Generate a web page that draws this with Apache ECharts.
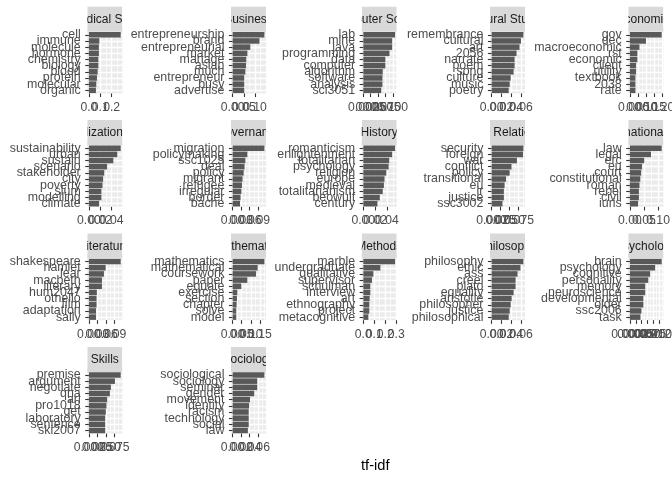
<!DOCTYPE html>
<html><head><meta charset="utf-8">
<script src="https://cdn.jsdelivr.net/npm/echarts@6/dist/echarts.min.js"></script>
<style>html,body{margin:0;padding:0;background:#fff}#c{width:672px;height:480px}</style>
</head><body><div id="c"></div>
<script>
// ---------------- data ----------------
const facetNames = ["Biomedical Science","Business","Computer Science","Cultural Studies","Economics",
  "Globalization","Governance","History","Int'l Relations","International Law",
  "Literature","Mathematics","Methods","Philosophy","Psychology","Skills","Sociology"];

const terms = [
  ["cell","immune","molecule","hormone","chemistry","biology","blood","protein","molecular","organic"],
  ["entrepreneurship","brand","entrepreneurial","market","manage","asian","much","entrepreneur","busy","advertise"],
  ["lab","mine","java","programming","data","computer","algorithm","software","analysis","sci3051"],
  ["remembrance","cultural","art","2056","narrate","poem","song","culture","music","poetry"],
  ["gov","dec","macroeconomic","rst","economic","client","utility","textbook","2038","rate"],
  ["sustainability","urban","sustain","scenario","stakeholder","city","poverty","slum","modelling","climate"],
  ["migration","policymaking","ssc1025","deal","policy","migrant","refugee","irregular","border","bache"],
  ["romanticism","enlightenment","totalitarian","psychology","religion","europe","medieval","totalitarianism","beowulf","century"],
  ["security","foreign","war","conflict","policy","transitional","eu","ir","justice","ssc3002"],
  ["law","legal","erc","eu","court","constitutional","roman","rebel","civil","iuris"],
  ["shakespeare","hamlet","lear","macbeth","literary","hum2047","othello","film","adaptation","sally"],
  ["mathematics","mathematical","coursework","paper","equate","exercise","section","chapter","solve","model"],
  ["marble","undergraduate","qualitative","supervisor","schulman","interview","art","ethnography","project","metacognitive"],
  ["philosophy","ethic","ass","creel","plato","equality","aristotle","philosopher","justice","philosophical"],
  ["brain","psychology","cognitive","personality","memory","neuroscience","developmental","older","ssc2006","task"],
  ["premise","argument","negotiate","qna","arl","pro1018","get","laboratory","sentence","ski2007"],
  ["sociological","sociology","seminar","gender","movement","identity","racism","technology","social","law"]
];

const tfidf = [
  [0.280,0.092,0.088,0.088,0.083,0.083,0.077,0.071,0.065,0.062],
  [0.142,0.120,0.079,0.066,0.061,0.060,0.057,0.052,0.052,0.052],
  [0.108,0.098,0.098,0.089,0.075,0.075,0.066,0.065,0.065,0.061],
  [0.065,0.060,0.057,0.051,0.047,0.047,0.045,0.039,0.037,0.035],
  [0.196,0.099,0.059,0.046,0.046,0.038,0.038,0.034,0.034,0.034],
  [0.056,0.050,0.043,0.032,0.027,0.025,0.024,0.022,0.022,0.018],
  [0.112,0.052,0.045,0.042,0.039,0.035,0.033,0.031,0.028,0.026],
  [0.054,0.049,0.044,0.043,0.039,0.036,0.035,0.033,0.028,0.024],
  [0.088,0.087,0.070,0.055,0.050,0.040,0.036,0.034,0.034,0.030],
  [0.113,0.075,0.051,0.043,0.040,0.037,0.034,0.032,0.032,0.029],
  [0.112,0.059,0.053,0.046,0.046,0.028,0.027,0.027,0.025,0.025],
  [0.175,0.138,0.129,0.081,0.048,0.026,0.024,0.022,0.020,0.020],
  [0.290,0.156,0.092,0.079,0.064,0.064,0.058,0.055,0.055,0.046],
  [0.065,0.059,0.053,0.049,0.049,0.045,0.041,0.039,0.037,0.035],
  [0.0135,0.0107,0.0086,0.0078,0.0065,0.0065,0.0057,0.0057,0.0049,0.0045],
  [0.094,0.077,0.065,0.062,0.054,0.052,0.050,0.048,0.048,0.048],
  [0.075,0.058,0.058,0.051,0.041,0.039,0.038,0.038,0.038,0.036]
];

const tickLabels = [
  ["0.0","0.1","0.2"],
  ["0.00","0.05","0.10"],
  ["0.000","0.025","0.050","0.075","0.100"],
  ["0.00","0.02","0.04","0.06"],
  ["0.00","0.05","0.10","0.15","0.20"],
  ["0.00","0.02","0.04"],
  ["0.00","0.03","0.06","0.09"],
  ["0.00","0.02","0.04"],
  ["0.000","0.025","0.050","0.075"],
  ["0.00","0.05","0.10"],
  ["0.00","0.03","0.06","0.09"],
  ["0.00","0.05","0.10","0.15"],
  ["0.0","0.1","0.2","0.3"],
  ["0.00","0.02","0.04","0.06"],
  ["0.0000","0.0025","0.0050","0.0075","0.0100","0.0125"],
  ["0.000","0.025","0.050","0.075"],
  ["0.00","0.02","0.04","0.06"]
];

const xTitle = "tf-idf";

// ---------------- layout / style ----------------
const colLeft = [87.3, 231.0, 361.7, 490.0, 628.3];
const panelW = 35, panelH = 61.7, rowTop0 = 31.7, rowStep = 113.4, stripH = 25;
const FONT = "'Liberation Sans', Arial, sans-serif";
const stripAnchor = ["center","center","center","center","center","right","center","center","center","center",
  "center","center","center","center","center","center","center"];

const grids = [], xAxes = [], yAxes = [], series = [], graphics = [];
const tickStyle = {color:'#333333', width:1.1};
const yLabelStyle = {fontSize:12.4, fontFamily:FONT, color:'#4D4D4D'};
const xLabelStyle = {fontSize:12.2, fontFamily:FONT, color:'#4D4D4D'};

facetNames.forEach((name, i) => {
  const r = Math.floor(i / 5), c = i % 5;
  const left = colLeft[c], top = rowTop0 + r * rowStep;
  grids.push({left:left, top:top, width:panelW, height:panelH, show:true,
    backgroundColor:'#EBEBEB', borderWidth:0, containLabel:false, outerBoundsMode:'none'});
  const vmax = Math.max.apply(null, tfidf[i]);
  const lo = -0.05 * vmax, hi = 1.05 * vmax;
  const majors = tickLabels[i].map(Number);
  const step = majors[1] - majors[0];
  const minors = [];
  for (let k = -1; k < majors.length; k++) {
    const m = majors[0] + (k + 0.5) * step;
    if (m > lo && m < hi) minors.push(m);
  }
  // main x axis: ticks + major grid lines (this one carries the bars)
  const mainX = xAxes.length;
  xAxes.push({type:'value', gridIndex:i, position:'bottom', min:lo, max:hi,
    axisLine:{show:false, onZero:false},
    axisTick:{show:true, customValues:majors, length:3.67, lineStyle:tickStyle},
    axisLabel:{show:false},
    splitLine:{show:true, lineStyle:{color:'#FFFFFF', width:1.4}}});
  // minor grid lines
  xAxes.push({type:'value', gridIndex:i, position:'top', min:lo, max:hi,
    axisLine:{show:false, onZero:false},
    axisTick:{show:false, customValues:minors},
    axisLabel:{show:false},
    splitLine:{show:true, lineStyle:{color:'#FFFFFF', width:0.7}}});
  // one label axis per break, so overlapping labels are all drawn (as in the reference)
  tickLabels[i].forEach((lab, k) => {
    xAxes.push({type:'value', gridIndex:i, position:'bottom', min:lo, max:hi,
      axisLine:{show:false, onZero:false},
      axisTick:{show:false, customValues:[majors[k]]},
      axisLabel:Object.assign({customValues:[majors[k]], margin:8.2, hideOverlap:false,
        showMinLabel:true, showMaxLabel:true, formatter:() => lab}, xLabelStyle),
      splitLine:{show:false}});
  });
  const mainY = yAxes.length;
  yAxes.push({type:'category', gridIndex:i, inverse:true, data:terms[i], position:'left',
    axisLine:{show:false},
    axisTick:{show:true, alignWithLabel:true, interval:0, length:3.67, lineStyle:tickStyle},
    axisLabel:Object.assign({interval:0, margin:6.6, hideOverlap:false,
      showMinLabel:true, showMaxLabel:true}, yLabelStyle),
    splitLine:{show:false}});
  yAxes.push({type:'value', gridIndex:i, position:'right', min:0, max:terms[i].length, inverse:true,
    axisLine:{show:false, onZero:false},
    axisTick:{show:false, customValues:terms[i].map((_, k) => k + 0.5)},
    axisLabel:{show:false},
    splitLine:{show:true, lineStyle:{color:'#FFFFFF', width:1.4}}});
  series.push({type:'bar', xAxisIndex:mainX, yAxisIndex:mainY, data:tfidf[i],
    barCategoryGap:'10%', itemStyle:{color:'#595959'}, silent:true});

  // strip
  const sTop = top - stripH;
  graphics.push({type:'rect', z:80, silent:true,
    shape:{x:left, y:sTop, width:panelW, height:stripH}, style:{fill:'#D9D9D9'}});
  const anchor = stripAnchor[i];
  const tx = anchor === 'right' ? left + panelW + 0.6 : left + panelW / 2;
  graphics.push({type:'text', z:90, silent:true,
    style:{text:name, x:tx, y:sTop + stripH / 2 + 0.5, font:'12px ' + FONT, fill:'#1A1A1A',
      align:anchor, verticalAlign:'middle', textAlign:anchor, textVerticalAlign:'middle'}});
  // masks that clip the strip text to the strip width
  graphics.push({type:'rect', z:100, silent:true,
    shape:{x:left - 45, y:sTop, width:45, height:20.5}, style:{fill:'#FFFFFF'}});
  graphics.push({type:'rect', z:100, silent:true,
    shape:{x:left + panelW, y:sTop, width:45, height:20.5}, style:{fill:'#FFFFFF'}});
});

graphics.push({type:'text', z:90, silent:true,
  style:{text:xTitle, x:(colLeft[0] + colLeft[4] + panelW) / 2, y:465.5, font:'14.7px ' + FONT,
    fill:'#000000', align:'center', verticalAlign:'middle', textAlign:'center', textVerticalAlign:'middle'}});

const chart = echarts.init(document.getElementById('c'), null, {renderer:'canvas'});
chart.setOption({
  animation:false,
  backgroundColor:'#FFFFFF',
  textStyle:{fontFamily:FONT},
  grid:grids, xAxis:xAxes, yAxis:yAxes, series:series,
  graphic:{elements:graphics}
});
</script></body></html>
